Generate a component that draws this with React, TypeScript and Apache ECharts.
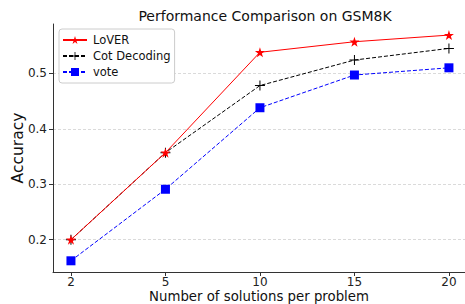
import React, { useEffect, useRef } from "react";
import * as echarts from "echarts";

const categories = ["2", "5", "10", "15", "20"];
const lover = [0.2, 0.357, 0.538, 0.557, 0.569];
const cot = [0.2, 0.357, 0.478, 0.524, 0.545];
const vote = [0.162, 0.291, 0.438, 0.497, 0.51];
const yTicks = [0.2, 0.3, 0.4, 0.5];

const STAR =
  "path://M100,0 L122.45,69.1 L195.1,69.1 L136.3,111.8 L158.8,180.9 L100,138.2 L41.2,180.9 L63.7,111.8 L4.9,69.1 L77.55,69.1 Z";
const PLUS = "path://M4.5,0H5.5V4.5H10V5.5H5.5V10H4.5V5.5H0V4.5H4.5Z";

const FONT = "DejaVu Sans";

export default function App() {
  const ref = useRef<HTMLDivElement>(null);
  useEffect(() => {
    if (!ref.current) return;
    const chart = echarts.init(ref.current, null, { renderer: "svg" });
    const toPts = (arr: number[]) => arr.map((v, i) => [i, v]);
    chart.setOption({
      animation: false,
      textStyle: { fontFamily: FONT },
      title: {
        text: "Performance Comparison on GSM8K",
        left: 260,
        top: 4,
        textAlign: "center",
        textStyle: { fontFamily: FONT, fontSize: 14, fontWeight: "normal", color: "#111" },
      },
      legend: {
        orient: "vertical",
        left: 59,
        top: 29,
        itemWidth: 24,
        itemHeight: 10,
        itemGap: 4,
        padding: [5, 4, 5, 3],
        backgroundColor: "#fff",
        borderColor: "#cccccc",
        borderWidth: 1,
        borderRadius: 3,
        textStyle: { fontFamily: FONT, fontSize: 11.5, color: "#111", padding: [0, 0, 0, 1] },
        data: ["LoVER", "Cot Decoding", "vote"],
      },
      grid: { left: 53, right: 0, top: 24, bottom: 32, containLabel: false, outerBoundsMode: "none" },
      xAxis: {
        type: "value",
        min: -0.19,
        max: 4.17,
        name: "Number of solutions per problem",
        nameLocation: "middle",
        nameGap: 17,
        nameMoveOverlap: false,
        nameTextStyle: { fontFamily: FONT, fontSize: 13.3, lineHeight: 14, color: "#111" },
        axisLine: { show: true, onZero: false, lineStyle: { color: "#333", width: 1 } },
        axisTick: { show: true, length: 4, customValues: [0, 1, 2, 3, 4], lineStyle: { color: "#333" } },
        axisLabel: {
          customValues: [0, 1, 2, 3, 4],
          formatter: (v: number) => categories[Math.round(v)] ?? "",
          fontFamily: FONT,
          fontSize: 12,
          lineHeight: 12,
          color: "#222",
          margin: 3.5,
        },
        splitLine: { show: false },
      },
      yAxis: {
        type: "value",
        min: 0.1418,
        max: 0.589,
        name: "Accuracy",
        nameLocation: "middle",
        nameGap: 27,
        nameMoveOverlap: false,
        nameRotate: 90,
        nameTextStyle: { fontFamily: FONT, fontSize: 15.5, color: "#111" },
        axisLine: { show: true, onZero: false, lineStyle: { color: "#333", width: 1 } },
        axisTick: { show: true, length: 4, customValues: yTicks, lineStyle: { color: "#333" } },
        axisLabel: {
          customValues: yTicks,
          formatter: (v: number) => v.toFixed(1),
          fontFamily: FONT,
          fontSize: 12,
          color: "#222",
          margin: 6,
        },
        splitLine: { show: true, lineStyle: { color: "#d0d0d0", type: [3, 2], width: 0.8 } },
      },
      series: [
        {
          name: "Cot Decoding",
          type: "line",
          data: toPts(cot),
          symbol: PLUS,
          symbolSize: 10,
          itemStyle: { color: "#000" },
          lineStyle: { color: "#000", width: 1, type: [4, 2] },
          z: 3,
        },
        {
          name: "vote",
          type: "line",
          data: toPts(vote),
          symbol: "rect",
          symbolSize: 9,
          itemStyle: { color: "#0000ff" },
          lineStyle: { color: "#0000ff", width: 1, type: [4, 2] },
          z: 2,
        },
        {
          name: "LoVER",
          type: "line",
          data: toPts(lover),
          symbol: STAR,
          symbolSize: 10,
          itemStyle: { color: "#ff0000" },
          lineStyle: { color: "#ff0000", width: 1 },
          z: 4,
        },
      ],
    });
    return () => chart.dispose();
  }, []);
  return <div ref={ref} style={{ width: 465, height: 304, position: "absolute", left: 0, top: 0 }} />;
}
